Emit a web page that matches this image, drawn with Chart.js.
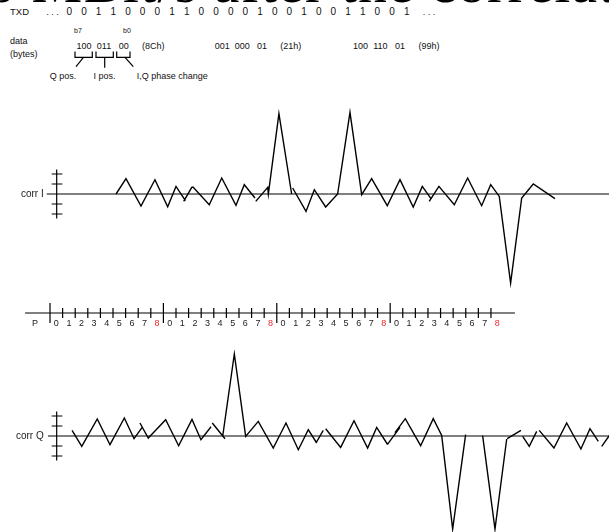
<!DOCTYPE html>
<html>
<head>
<meta charset="utf-8">
<script src="https://cdn.jsdelivr.net/npm/chart.js@4.4.1/dist/chart.umd.min.js"></script>
<style>
  body { margin: 0; background: #fff; }
  #page { position: relative; width: 609px; height: 532px; overflow: hidden;
          font-family: "Liberation Sans", Arial, sans-serif; color: #111; }
  .t { position: absolute; white-space: pre; line-height: 1; font-size: 9px; transform: translateY(-50%); }
  .c { transform: translate(-50%, -50%); }
  #title { position: absolute; left: -14px; top: -46px; font: 57px "Liberation Serif", serif;
           letter-spacing: 1.4px; line-height: 57px; white-space: pre; color: #000; }
  canvas { position: absolute; left: 0; }
  svg { position: absolute; left: 0; top: 0; }
</style>
</head>
<body>
<div id="page">
  <div id="title">6 MBit/s after the correlator</div>
  <svg width="609" height="90">
    <g stroke="#000" stroke-width="1.2" fill="none">
      <path d="M75,51.5 V57.3 H92.3 V51.5"/>
      <path d="M96,51.5 V57.3 H113.3 V51.5"/>
      <path d="M116.7,51.5 V57.3 H130 V51.5"/>
      <path d="M83.5,57.3 L76,66.7"/>
      <path d="M104.7,57.3 V67.7"/>
      <path d="M125,57.3 L133.3,66.7"/>
    </g>
  </svg>
  <canvas id="chartI" width="609" height="200" style="top:94px"></canvas>
  <canvas id="chartP" width="609" height="42" style="top:293px"></canvas>
  <canvas id="chartQ" width="609" height="196" style="top:336px"></canvas>
</div>
<script>
// header data
const txdBits = [0,0,1,1,0,0,0,1,1,0,0,0,0,1,0,0,1,0,0,1,1,0,0,1];
const byteFields = [['100','011','00'], ['001','000','01'], ['100','110','01']];
const byteHex = ['(8Ch)', '(21h)', '(99h)'];
const fieldLabels = ['Q pos.', 'I pos.', 'I,Q phase change'];

// P axis: sample index inside one symbol, 4 symbols shown
const pLabels = ['0','1','2','3','4','5','6','7','8'];
const pGroups = 4;
const tickLevels = [-2, -1, 1, 2];

// correlator output, drawn as separate strokes [sample, value]
const corrI = [
  [[5.24,0],[6.03,1.53],[7.22,-1.2],[8.33,1.43],[9.34,-1.27],[10.0,0.76],[10.75,-0.67]],
  [[10.61,-0.74],[11.25,0.66],[11.35,0.7],[12.64,-1.07],[13.63,1.6],[14.76,-1.14],[15.42,0.93],[16.27,-0.4]],
  [[16.33,-0.74],[17.28,0.66],[17.33,0],[18.17,8.03],[19.18,0]],
  [[19.26,0.6],[20.32,-1.74],[20.98,0.43],[21.88,-1.3],[22.83,0],[23.81,8.16],[24.74,-0.07],
   [25.53,1.53],[26.77,-1.17],[27.78,1.43],[28.83,-1.3],[29.55,0.76],[30.24,-0.47]],
  [[30.1,-0.74],[30.87,0.76],[32.09,-1.07],[33.15,1.6],[34.26,-1.17],[34.98,0.93],[35.66,-0.24],
   [36.56,-8.9],[37.44,-0.4],[38.36,1.0],[40.08,-0.47]]
];
const corrQ = [
  [[1.75,0.56],[2.52,-1.04],[3.75,1.7],[4.76,-0.87],[5.9,1.8],[6.67,-0.27],[7.3,0.83]],
  [[7.14,1.3],[7.8,-0.2],[9.18,1.63],[10.21,-0.97],[11.27,1.66],[11.98,-0.37],[12.78,0.93]],
  [[12.88,1.3],[13.89,-0.27],[13.71,0],[14.63,8.2],[15.53,-0.04],[16.53,1.46],[17.72,-1.2],
   [18.73,1.3],[19.71,-1.37],[20.5,0.63],[21.17,-0.7]],
  [[21.11,-0.7],[21.69,0.56]],
  [[21.88,0.73],[23.07,-1.14],[24.13,1.53],[25.21,-1.2],[25.93,0.86],[26.77,-0.8]],
  [[26.77,-0.87],[27.78,0.86]],
  [[27.38,0.33],[28.2,1.73],[29.42,-0.97],[30.42,1.73],[31.09,0.06],[31.96,-9.3],[32.99,0.13]],
  [[34.34,0.03],[35.32,-9.3],[36.25,-0.3]],
  [[36.29,-0.27],[37.38,0.56]],
  [[37.52,-0.04],[38.04,-1.04],[38.63,0.46]],
  [[38.83,0.56],[40.0,-1.2],[41.01,1.3],[42.14,-1.3],[42.86,0.73],[43.52,-0.54]],
  [[43.79,-1.04],[44.44,0.13]]
];

const X_MIN = -3.97, X_MAX = 44.37;

// ---- header text ----
const page = document.getElementById('page');
function put(text, x, y, cls, style) {
  const s = document.createElement('span');
  s.className = 't' + (cls ? ' ' + cls : '');
  s.textContent = text;
  s.style.left = x + 'px';
  s.style.top = y + 'px';
  if (style) Object.assign(s.style, style);
  page.appendChild(s);
}
put('TXD', 10, 12.3, '', { fontSize: '9.5px' });
put('. . .', 52.5, 12.3, 'c');
txdBits.forEach((b, i) => put(String(b), 69.3 + i * 14.67, 12.3, 'c', { fontSize: '10px' }));
put('. . .', 429, 12.3, 'c');

put('data', 10, 41);
put('(bytes)', 10, 54);
put('b7', 78, 30, 'c', { fontSize: '7px' });
put('b0', 127, 30, 'c', { fontSize: '7px' });
const fieldOffsets = [0, 20, 39.7];
byteFields.forEach((fields, g) => {
  const x0 = 84 + g * 138.2;
  fields.forEach((f, k) => put(f, x0 + fieldOffsets[k], 46, 'c'));
  put(byteHex[g], x0 + 58, 46);
});
put(fieldLabels[0], 63, 76, 'c');
put(fieldLabels[1], 104.5, 76, 'c');
put(fieldLabels[2], 136.7, 76);

// ---- charts ----
function toPoints(segments) {
  const out = [];
  segments.forEach((seg, k) => {
    if (k) out.push({ x: seg[0][0], y: null });
    seg.forEach(p => out.push({ x: p[0], y: p[1] }));
  });
  return out;
}

function line(data, width) {
  return { data: data, borderColor: '#000', borderWidth: width, pointRadius: 0, tension: 0, fill: false };
}

function axisMarks() {
  const pts = [{ x: 0.53, y: -2.45 }, { x: 0.53, y: 2.45 }];
  tickLevels.forEach(v => {
    pts.push({ x: 0.13, y: null }, { x: 0.13, y: v }, { x: 0.98, y: v });
  });
  return pts;
}

function makeChart(id, yMin, yMax, datasets, drawText) {
  return new Chart(document.getElementById(id), {
    type: 'line',
    data: { datasets: datasets },
    options: {
      responsive: false,
      animation: false,
      devicePixelRatio: 1,
      layout: { padding: 0 },
      plugins: { legend: { display: false }, tooltip: { enabled: false } },
      scales: {
        x: { type: 'linear', display: false, min: X_MIN, max: X_MAX },
        y: { type: 'linear', display: false, min: yMin, max: yMax }
      }
    },
    plugins: [{
      id: 'texts',
      afterDatasetsDraw(chart) {
        const ctx = chart.ctx;
        ctx.save();
        drawText(ctx, chart.scales.x, chart.scales.y);
        ctx.restore();
      }
    }]
  });
}

function corrLabel(text) {
  return (ctx, xs, ys) => {
    ctx.font = '10px "Liberation Sans", Arial, sans-serif';
    ctx.fillStyle = '#222';
    ctx.textAlign = 'right';
    ctx.textBaseline = 'middle';
    ctx.fillText(text, xs.getPixelForValue(-0.26) - 3, ys.getPixelForValue(0));
  };
}

makeChart('chartI', -10, 10, [
  line([{ x: -0.26, y: 0 }, { x: X_MAX + 1, y: 0 }], 1),
  line(axisMarks(), 1.2),
  line(toPoints(corrI), 1.4)
], corrLabel('corr I'));

makeChart('chartQ', -9.6, 10, [
  line([{ x: -0.16, y: 0 }, { x: X_MAX + 1, y: 0 }], 1),
  line(axisMarks(), 1.2),
  line(toPoints(corrQ), 1.4)
], corrLabel('corr Q'));

// P axis
const nSamples = pGroups * pLabels.length;
const pTicks = [];
for (let i = 0; i < nSamples; i++) {
  const h = i % pLabels.length === 0 ? 1 : 0.5;
  if (i) pTicks.push({ x: i, y: null });
  pTicks.push({ x: i, y: -h }, { x: i, y: h });
}
makeChart('chartP', -2.2, 2, [
  line([{ x: -1.98, y: 0 }, { x: 36.9, y: 0 }], 1),
  line(pTicks, 1.2)
], (ctx, xs, ys) => {
  ctx.font = '9px "Liberation Sans", Arial, sans-serif';
  ctx.textAlign = 'center';
  ctx.textBaseline = 'middle';
  const y = ys.getPixelForValue(-1.1);
  ctx.fillStyle = '#222';
  ctx.fillText('P', xs.getPixelForValue(-1.19), y);
  for (let i = 0; i < nSamples; i++) {
    const lab = pLabels[i % pLabels.length];
    ctx.fillStyle = lab === '8' ? '#e8262a' : '#222';
    ctx.fillText(lab, xs.getPixelForValue(i + 0.5), y);
  }
});
</script>
</body>
</html>
